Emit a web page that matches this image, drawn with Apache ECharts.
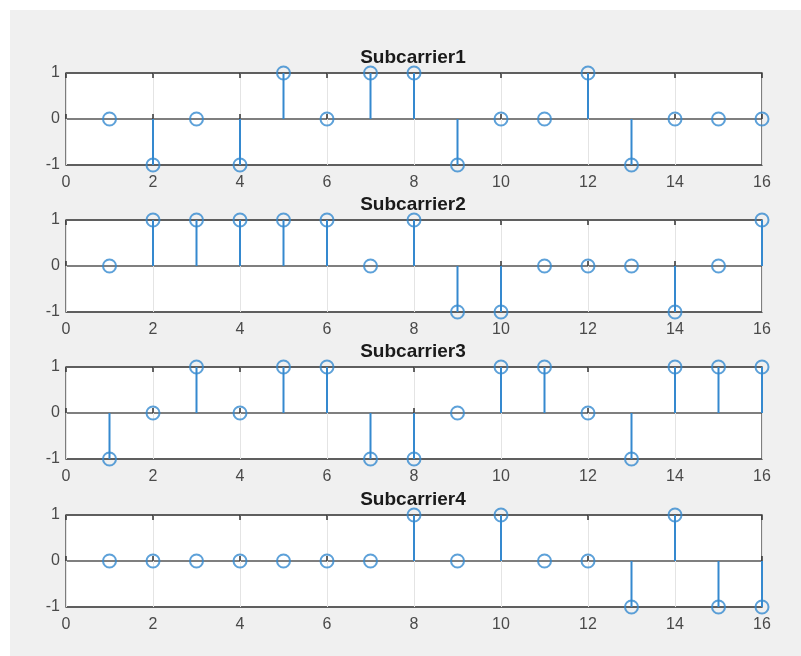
<!DOCTYPE html>
<html>
<head>
<meta charset="utf-8">
<script src="https://cdn.jsdelivr.net/npm/echarts@6/dist/echarts.min.js"></script>
<style>
  html, body { margin: 0; padding: 0; background: #ffffff; }
  #panel { position: absolute; left: 10px; top: 10px; width: 791px; height: 646px; background: #f0f0f0; }
  #chart { position: absolute; left: 0; top: 0; width: 801px; height: 656px; }
</style>
</head>
<body>
<div id="panel"></div>
<div id="chart"></div>
<script>
const samples = [1, 2, 3, 4, 5, 6, 7, 8, 9, 10, 11, 12, 13, 14, 15, 16];
const titles = ['Subcarrier1', 'Subcarrier2', 'Subcarrier3', 'Subcarrier4'];
const subcarrier1 = [0, -1, 0, -1, 1, 0, 1, 1, -1, 0, 0, 1, -1, 0, 0, 0];
const subcarrier2 = [0, 1, 1, 1, 1, 1, 0, 1, -1, -1, 0, 0, 0, -1, 0, 1];
const subcarrier3 = [-1, 0, 1, 0, 1, 1, -1, -1, 0, 1, 1, 0, -1, 1, 1, 1];
const subcarrier4 = [0, 0, 0, 0, 0, 0, 0, 1, 0, 1, 0, 0, -1, 1, -1, -1];
const seriesValues = [subcarrier1, subcarrier2, subcarrier3, subcarrier4];

const plotTops = [73, 220, 367, 515];
const plotHeight = 92;
const plotLeft = 66;
const plotRight = 39;
const blue = '#3589cf';
const axisGray = '#555555';
const labelColor = '#4a4a4a';
const fontFam = 'Liberation Sans, Arial, Helvetica, sans-serif';

const grid = [], xAxis = [], yAxis = [], series = [], title = [];

seriesValues.forEach((vals, i) => {
  const top = plotTops[i];
  grid.push({
    left: plotLeft, right: plotRight, top: top, height: plotHeight,
    show: true, backgroundColor: '#ffffff', borderColor: axisGray, borderWidth: 1.5
  });
  title.push({
    text: titles[i], left: 413, top: top - 25, textAlign: 'center', padding: 0,
    textStyle: { fontFamily: fontFam, fontSize: 19, fontWeight: 'bold', color: '#1a1a1a' }
  });
  xAxis.push({
    type: 'value', gridIndex: i, min: 0, max: 16, interval: 2, position: 'bottom',
    axisLine: { show: false },
    axisTick: { show: true, inside: true, length: 5, lineStyle: { color: '#333', width: 1.5 } },
    axisLabel: { margin: 10, color: labelColor, fontSize: 16, fontFamily: fontFam },
    splitLine: { show: true, lineStyle: { color: '#e4e4e4', width: 1 } }
  });
  xAxis.push({
    type: 'value', gridIndex: i, min: 0, max: 16, interval: 2, position: 'top',
    axisLine: { show: false },
    axisTick: { show: true, inside: true, length: 5, lineStyle: { color: '#333', width: 1.5 } },
    axisLabel: { show: false },
    splitLine: { show: false }
  });
  yAxis.push({
    type: 'value', gridIndex: i, min: -1, max: 1, interval: 1,
    axisLine: { show: false },
    axisTick: { show: false },
    axisLabel: { margin: 6, color: labelColor, fontSize: 16, fontFamily: fontFam },
    splitLine: { show: true, lineStyle: { color: axisGray, width: 1.5 } }
  });
  const pts = vals.map((v, k) => [samples[k], v]);
  series.push({
    type: 'bar', xAxisIndex: i * 2, yAxisIndex: i, data: pts,
    barWidth: 2, itemStyle: { color: blue }, silent: true, z: 3
  });
  series.push({
    type: 'scatter', xAxisIndex: i * 2, yAxisIndex: i, data: pts,
    symbol: 'circle', symbolSize: 13,
    itemStyle: { color: 'rgba(0,0,0,0)', borderColor: blue, borderWidth: 2 },
    silent: true, z: 4
  });
});

const chart = echarts.init(document.getElementById('chart'), null, { renderer: 'canvas' });
chart.setOption({
  backgroundColor: 'transparent',
  animation: false,
  title, grid, xAxis, yAxis, series
});
</script>
</body>
</html>
